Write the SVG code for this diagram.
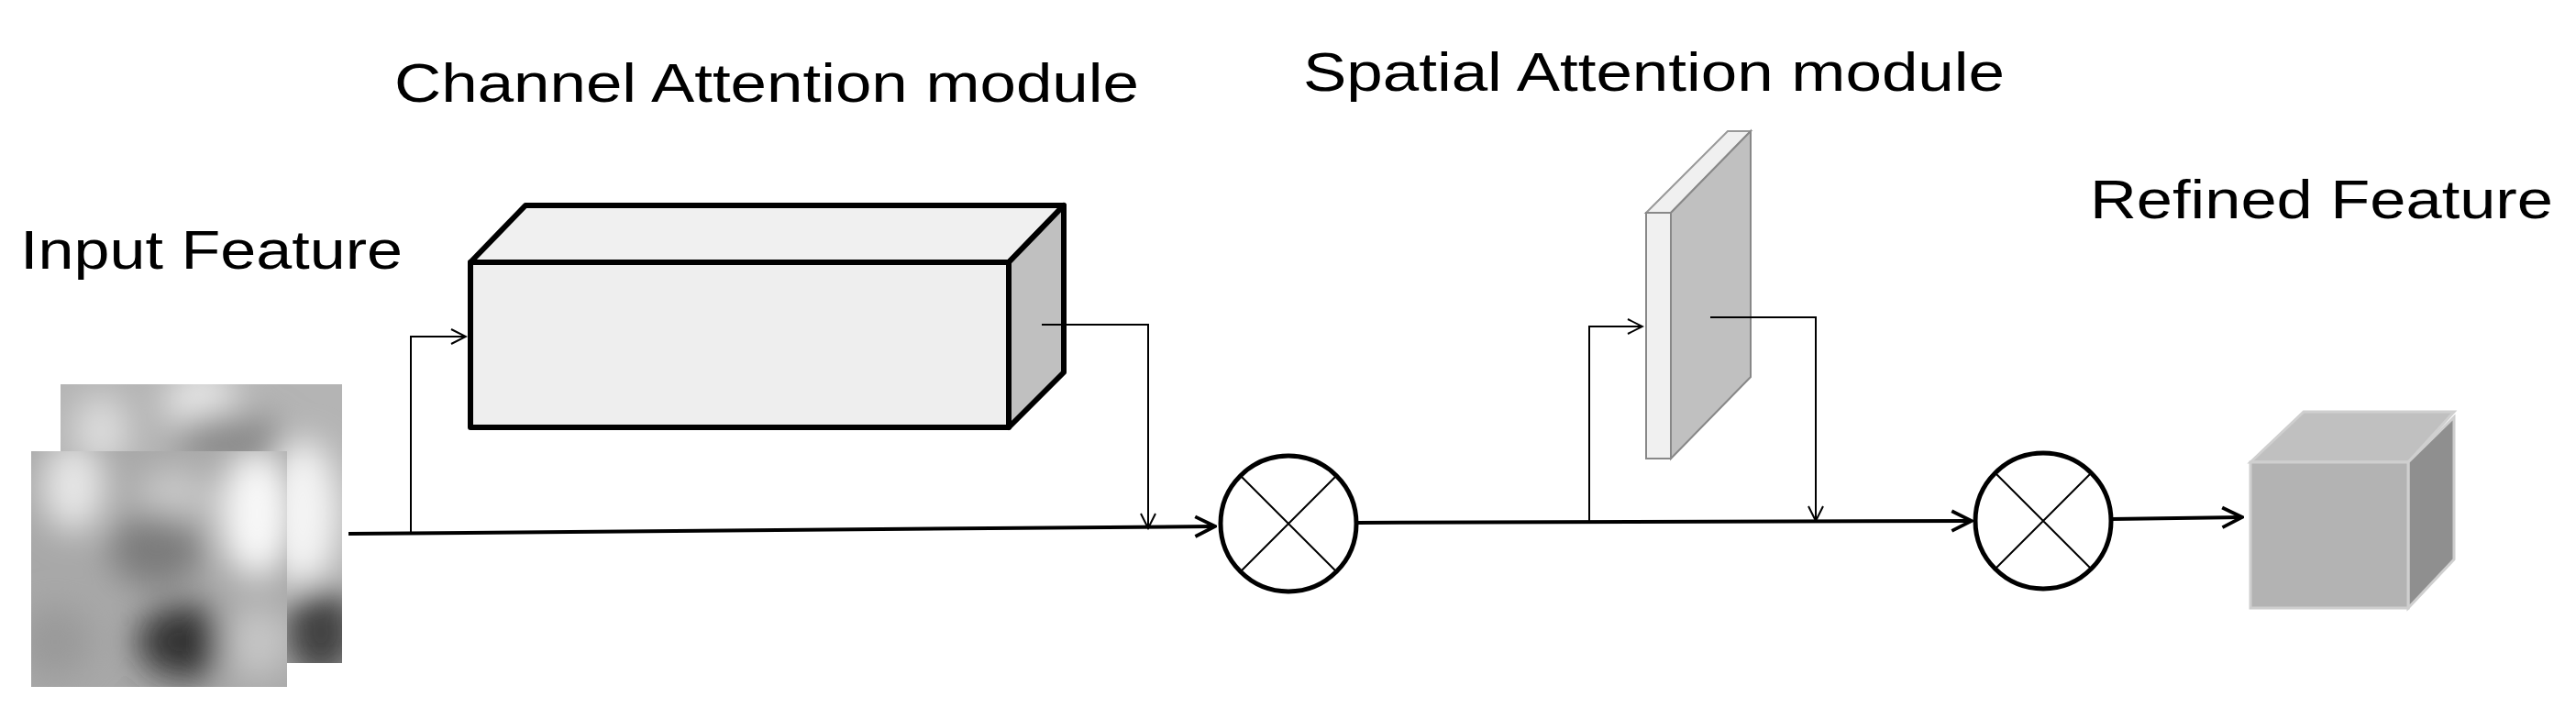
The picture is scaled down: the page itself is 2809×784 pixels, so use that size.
<svg xmlns="http://www.w3.org/2000/svg" width="2809" height="784" viewBox="0 0 2809 784">
<defs>
<style>
text{font-family:"Liberation Sans",Arial,sans-serif;font-size:60px;fill:#000}
.thin{stroke:#000;stroke-width:2;fill:none}
.main{stroke:#000;stroke-width:4;fill:none}
.box{stroke:#000;stroke-width:6;stroke-linejoin:round}
</style>
<marker id="ah" viewBox="0 0 20 20" refX="18" refY="10" markerWidth="20" markerHeight="20" markerUnits="userSpaceOnUse" orient="auto"><path d="M2,2 L18,10 L2,18" fill="none" stroke="#000" stroke-width="2"/></marker>
<marker id="ahb" viewBox="0 0 24 24" refX="22" refY="12" markerWidth="26" markerHeight="26" markerUnits="userSpaceOnUse" orient="auto"><path d="M2,2 L22,12 L2,22" fill="none" stroke="#000" stroke-width="3.5"/></marker>
<filter id="bl" x="-20%" y="-20%" width="140%" height="140%"><feGaussianBlur stdDeviation="18"/></filter>
<clipPath id="cb"><rect x="66" y="419" width="307" height="304"/></clipPath>
<clipPath id="cf"><rect x="34" y="492" width="279" height="257"/></clipPath>
</defs>
<g id="input-feature">
<rect x="66" y="419" width="307" height="304" fill="#b4b4b4"/>
<g clip-path="url(#cb)" filter="url(#bl)">
<ellipse cx="220" cy="440" rx="40" ry="35" fill="#e8e8e8"/>
<ellipse cx="330" cy="560" rx="40" ry="80" fill="#f4f4f4"/>
<ellipse cx="250" cy="480" rx="60" ry="30" fill="#8a8a8a"/>
<ellipse cx="350" cy="690" rx="40" ry="50" fill="#404040"/>
<ellipse cx="110" cy="470" rx="30" ry="40" fill="#dcdcdc"/>
</g>
<rect x="34" y="492" width="279" height="257" fill="#a8a8a8"/>
<g clip-path="url(#cf)" filter="url(#bl)">
<ellipse cx="80" cy="530" rx="35" ry="50" fill="#e6e6e6"/>
<ellipse cx="280" cy="560" rx="40" ry="70" fill="#f8f8f8"/>
<ellipse cx="190" cy="540" rx="40" ry="30" fill="#c8c8c8"/>
<ellipse cx="170" cy="600" rx="50" ry="40" fill="#7c7c7c"/>
<ellipse cx="200" cy="700" rx="50" ry="40" fill="#303030"/>
<ellipse cx="60" cy="700" rx="40" ry="40" fill="#9a9a9a"/>
<ellipse cx="280" cy="700" rx="40" ry="40" fill="#c4c4c4"/>
</g>
<text x="22" y="293" textLength="417" lengthAdjust="spacingAndGlyphs">Input Feature</text>
</g>
<g id="channel-attention">
<polygon class="box" points="513,286 573,224 1160,224 1100,286" fill="#f0f0f0"/>
<polygon class="box" points="1100,286 1160,224 1160,406 1100,466" fill="#c0c0c0"/>
<rect class="box" x="513" y="286" width="587" height="180" fill="#eeeeee"/>
<text x="430" y="111" textLength="812" lengthAdjust="spacingAndGlyphs">Channel Attention module</text>
</g>
<g id="spatial-attention">
<polygon points="1795,232 1884,143 1909,143 1822,232" fill="#f0f0f0" stroke="#999" stroke-width="2"/>
<polygon points="1822,232 1909,143 1909,411 1822,500" fill="#c0c0c0" stroke="#888" stroke-width="2"/>
<rect x="1795" y="232" width="27" height="268" fill="#f0f0f0" stroke="#888" stroke-width="2"/>
<text x="1421" y="99" textLength="765" lengthAdjust="spacingAndGlyphs">Spatial Attention module</text>
</g>
<g id="mult1">
<circle cx="1405" cy="571" r="74" fill="#fff" stroke="#000" stroke-width="5"/>
<path class="thin" d="M1353,519 L1457,623 M1457,519 L1353,623"/>
</g>
<g id="mult2">
<circle cx="2228" cy="568" r="74" fill="#fff" stroke="#000" stroke-width="5"/>
<path class="thin" d="M2176,516 L2280,620 M2280,516 L2176,620"/>
</g>
<g id="refined-feature">
<polygon points="2454,504 2512,449 2676,449 2626,504" fill="#c0c0c0" stroke="#cfcfcf" stroke-width="3"/>
<polygon points="2626,504 2676,455 2676,610 2626,663" fill="#8f8f8f" stroke="#cfcfcf" stroke-width="3"/>
<rect x="2454" y="504" width="172" height="159" fill="#b3b3b3" stroke="#cfcfcf" stroke-width="3"/>
<text x="2279" y="238" textLength="505" lengthAdjust="spacingAndGlyphs">Refined Feature</text>
</g>
<g id="connectors">
<path class="main" d="M380,582 L1325,574" marker-end="url(#ahb)"/>
<path class="thin" d="M448,581 L448,367 L508,367" marker-end="url(#ah)"/>
<path class="thin" d="M1136,354 L1252,354 L1252,576" marker-end="url(#ah)"/>
<path class="main" d="M1480,570 L2150,568" marker-end="url(#ahb)"/>
<path class="thin" d="M1733,569 L1733,356 L1791,356" marker-end="url(#ah)"/>
<path class="thin" d="M1865,346 L1980,346 L1980,568" marker-end="url(#ah)"/>
<path class="main" d="M2302,566 L2445,564" marker-end="url(#ahb)"/>
</g>
</svg>
